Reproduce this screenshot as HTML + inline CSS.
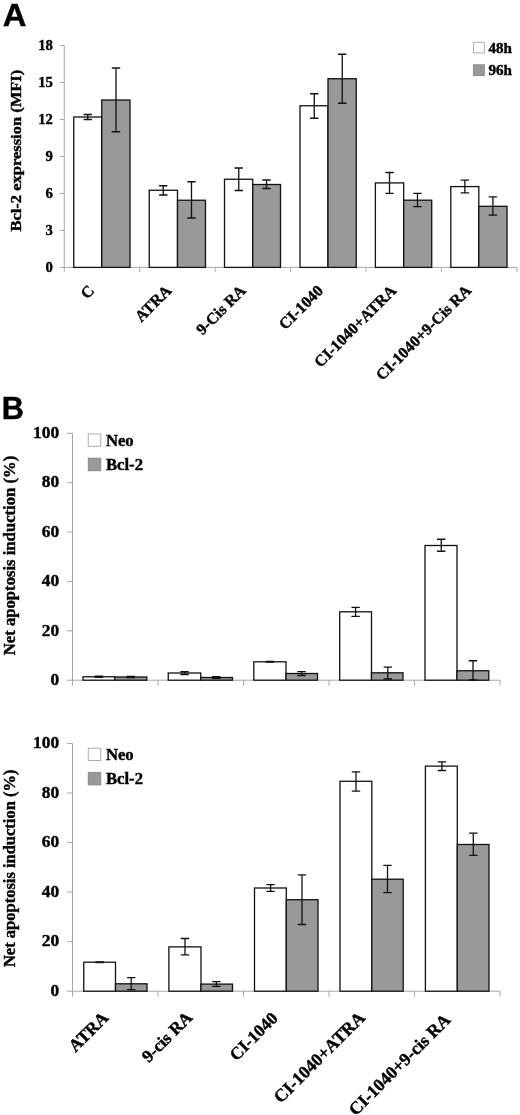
<!DOCTYPE html>
<html lang="en">
<head>
<meta charset="utf-8">
<title>Figure</title>
<style>
html,body{margin:0;padding:0;background:#fff;}
body{width:520px;height:1115px;overflow:hidden;}
svg{display:block;}
text{white-space:pre;font-weight:bold;fill:#000;stroke:#000;stroke-width:0.4px;}
.sf{font-family:"Liberation Serif","DejaVu Serif",serif;}
.ss{font-family:"Liberation Sans","DejaVu Sans",sans-serif;}
</style>
</head>
<body>
<svg width="520" height="1115" viewBox="0 0 520 1115">
<rect x="0" y="0" width="520" height="1115" fill="#ffffff"/>
<text class="ss" transform="translate(2.80 26.00) scale(1.07 1)" font-size="30.7px" text-anchor="start">A</text>
<path d="M64.25 45.5V267.4H517M59.75 267.4H64.25M59.75 230.42H64.25M59.75 193.43H64.25M59.75 156.45H64.25M59.75 119.47H64.25M59.75 82.48H64.25M59.75 45.5H64.25M64.25 267.4V271.9M139.7 267.4V271.9M215.15 267.4V271.9M290.6 267.4V271.9M366.05 267.4V271.9M441.5 267.4V271.9M516.95 267.4V271.9" fill="none" stroke="#a6a6a6" stroke-width="1"/>
<text class="sf" transform="translate(52.90 272.10)" font-size="14.67px" text-anchor="end">0</text>
<text class="sf" transform="translate(52.90 235.12)" font-size="14.67px" text-anchor="end">3</text>
<text class="sf" transform="translate(52.90 198.13)" font-size="14.67px" text-anchor="end">6</text>
<text class="sf" transform="translate(52.90 161.15)" font-size="14.67px" text-anchor="end">9</text>
<text class="sf" transform="translate(52.90 124.17)" font-size="14.67px" text-anchor="end">12</text>
<text class="sf" transform="translate(52.90 87.18)" font-size="14.67px" text-anchor="end">15</text>
<text class="sf" transform="translate(52.90 50.20)" font-size="14.67px" text-anchor="end">18</text>
<rect x="73.75" y="117.00" width="28.00" height="150.40" fill="#fff" stroke="#111111" stroke-width="1.3"/>
<rect x="101.75" y="100.00" width="28.25" height="167.40" fill="#999999" stroke="#111111" stroke-width="1.3"/>
<path d="M87.75 114.50V119.50M83.55 114.50H91.95M83.55 119.50H91.95" fill="none" stroke="#111111" stroke-width="1.3"/>
<path d="M116.00 68.00V131.75M111.80 68.00H120.20M111.80 131.75H120.20" fill="none" stroke="#111111" stroke-width="1.3"/>
<rect x="149.25" y="190.25" width="28.25" height="77.15" fill="#fff" stroke="#111111" stroke-width="1.3"/>
<rect x="177.50" y="200.25" width="28.00" height="67.15" fill="#999999" stroke="#111111" stroke-width="1.3"/>
<path d="M163.25 185.75V195.00M159.05 185.75H167.45M159.05 195.00H167.45" fill="none" stroke="#111111" stroke-width="1.3"/>
<path d="M191.50 181.75V218.00M187.30 181.75H195.70M187.30 218.00H195.70" fill="none" stroke="#111111" stroke-width="1.3"/>
<rect x="224.50" y="179.25" width="28.25" height="88.15" fill="#fff" stroke="#111111" stroke-width="1.3"/>
<rect x="252.75" y="184.50" width="27.75" height="82.90" fill="#999999" stroke="#111111" stroke-width="1.3"/>
<path d="M238.75 168.00V190.50M234.55 168.00H242.95M234.55 190.50H242.95" fill="none" stroke="#111111" stroke-width="1.3"/>
<path d="M266.50 180.00V188.50M262.30 180.00H270.70M262.30 188.50H270.70" fill="none" stroke="#111111" stroke-width="1.3"/>
<rect x="300.00" y="105.75" width="28.00" height="161.65" fill="#fff" stroke="#111111" stroke-width="1.3"/>
<rect x="328.00" y="78.75" width="28.25" height="188.65" fill="#999999" stroke="#111111" stroke-width="1.3"/>
<path d="M314.25 93.75V118.25M310.05 93.75H318.45M310.05 118.25H318.45" fill="none" stroke="#111111" stroke-width="1.3"/>
<path d="M342.25 54.25V103.25M338.05 54.25H346.45M338.05 103.25H346.45" fill="none" stroke="#111111" stroke-width="1.3"/>
<rect x="375.40" y="182.90" width="28.30" height="84.50" fill="#fff" stroke="#111111" stroke-width="1.3"/>
<rect x="403.70" y="200.20" width="28.00" height="67.20" fill="#999999" stroke="#111111" stroke-width="1.3"/>
<path d="M389.50 172.50V193.40M385.30 172.50H393.70M385.30 193.40H393.70" fill="none" stroke="#111111" stroke-width="1.3"/>
<path d="M417.50 193.40V206.60M413.30 193.40H421.70M413.30 206.60H421.70" fill="none" stroke="#111111" stroke-width="1.3"/>
<rect x="450.80" y="186.60" width="28.00" height="80.80" fill="#fff" stroke="#111111" stroke-width="1.3"/>
<rect x="478.80" y="206.30" width="28.20" height="61.10" fill="#999999" stroke="#111111" stroke-width="1.3"/>
<path d="M464.90 180.20V192.80M460.70 180.20H469.10M460.70 192.80H469.10" fill="none" stroke="#111111" stroke-width="1.3"/>
<path d="M492.90 196.80V215.20M488.70 196.80H497.10M488.70 215.20H497.10" fill="none" stroke="#111111" stroke-width="1.3"/>
<rect x="473.5" y="42.3" width="10.8" height="10.6" fill="#fff" stroke="#adadad" stroke-width="1"/>
<rect x="473.5" y="64.8" width="10.8" height="10.8" fill="#999999" stroke="#8a8a8a" stroke-width="1"/>
<text class="sf" transform="translate(488.50 52.80) scale(1.04 1)" font-size="14.5px" text-anchor="start">48h</text>
<text class="sf" transform="translate(488.50 75.40) scale(1.04 1)" font-size="14.5px" text-anchor="start">96h</text>
<text class="sf" transform="translate(21.00 150.70) rotate(-90) scale(1.058 1)" font-size="15.6px" text-anchor="middle">Bcl-2 expression (MFI)</text>
<text class="sf" transform="translate(95.10 291.50) rotate(-45)" font-size="16px" text-anchor="end">C</text>
<text class="sf" transform="translate(172.40 291.50) rotate(-45)" font-size="16px" text-anchor="end">ATRA</text>
<text class="sf" transform="translate(246.80 291.50) rotate(-45)" font-size="16px" text-anchor="end">9-Cis RA</text>
<text class="sf" transform="translate(324.10 291.60) rotate(-45)" font-size="16px" text-anchor="end">CI-1040</text>
<text class="sf" transform="translate(397.10 291.60) rotate(-45)" font-size="16px" text-anchor="end">CI-1040+ATRA</text>
<text class="sf" transform="translate(472.10 291.40) rotate(-45)" font-size="16px" text-anchor="end">CI-1040+9-Cis RA</text>
<text class="ss" transform="translate(1.70 418.80)" font-size="30.7px" text-anchor="start">B</text>
<path d="M72.5 433.3V680.2H500M67.0 680.2H72.5M67.0 630.82H72.5M67.0 581.44H72.5M67.0 532.06H72.5M67.0 482.68H72.5M67.0 433.3H72.5M72.5 680.2V685.7M158.0 680.2V685.7M243.5 680.2V685.7M329.0 680.2V685.7M414.5 680.2V685.7M500.0 680.2V685.7" fill="none" stroke="#a6a6a6" stroke-width="1"/>
<text class="sf" transform="translate(59.10 685.00)" font-size="17.4px" text-anchor="end">0</text>
<text class="sf" transform="translate(59.10 635.62)" font-size="17.4px" text-anchor="end">20</text>
<text class="sf" transform="translate(59.10 586.24)" font-size="17.4px" text-anchor="end">40</text>
<text class="sf" transform="translate(59.10 536.86)" font-size="17.4px" text-anchor="end">60</text>
<text class="sf" transform="translate(59.10 487.48)" font-size="17.4px" text-anchor="end">80</text>
<text class="sf" transform="translate(59.10 438.10)" font-size="17.4px" text-anchor="end">100</text>
<rect x="83.00" y="676.75" width="31.75" height="3.45" fill="#fff" stroke="#111111" stroke-width="1.3"/>
<rect x="114.75" y="677.00" width="32.00" height="3.20" fill="#999999" stroke="#111111" stroke-width="1.3"/>
<path d="M98.90 676.20V677.30M94.70 676.20H103.10M94.70 677.30H103.10" fill="none" stroke="#111111" stroke-width="1.3"/>
<path d="M130.70 676.30V677.70M126.50 676.30H134.90M126.50 677.70H134.90" fill="none" stroke="#111111" stroke-width="1.3"/>
<rect x="168.25" y="673.00" width="32.50" height="7.20" fill="#fff" stroke="#111111" stroke-width="1.3"/>
<rect x="200.75" y="677.50" width="31.75" height="2.70" fill="#999999" stroke="#111111" stroke-width="1.3"/>
<path d="M184.50 671.75V674.50M180.30 671.75H188.70M180.30 674.50H188.70" fill="none" stroke="#111111" stroke-width="1.3"/>
<path d="M216.25 676.60V678.40M212.05 676.60H220.45M212.05 678.40H220.45" fill="none" stroke="#111111" stroke-width="1.3"/>
<rect x="253.80" y="661.80" width="32.20" height="18.40" fill="#fff" stroke="#111111" stroke-width="1.3"/>
<rect x="286.00" y="673.50" width="31.50" height="6.70" fill="#999999" stroke="#111111" stroke-width="1.3"/>
<path d="M270.00 661.50V662.10M265.80 661.50H274.20M265.80 662.10H274.20" fill="none" stroke="#111111" stroke-width="1.3"/>
<path d="M301.60 671.70V675.50M297.40 671.70H305.80M297.40 675.50H305.80" fill="none" stroke="#111111" stroke-width="1.3"/>
<rect x="339.70" y="611.80" width="31.80" height="68.40" fill="#fff" stroke="#111111" stroke-width="1.3"/>
<rect x="371.50" y="672.80" width="31.50" height="7.40" fill="#999999" stroke="#111111" stroke-width="1.3"/>
<path d="M355.60 607.30V616.30M351.40 607.30H359.80M351.40 616.30H359.80" fill="none" stroke="#111111" stroke-width="1.3"/>
<path d="M387.80 667.20V679.00M383.60 667.20H392.00M383.60 679.00H392.00" fill="none" stroke="#111111" stroke-width="1.3"/>
<rect x="425.00" y="545.50" width="32.00" height="134.70" fill="#fff" stroke="#111111" stroke-width="1.3"/>
<rect x="457.00" y="670.75" width="31.75" height="9.45" fill="#999999" stroke="#111111" stroke-width="1.3"/>
<path d="M441.25 539.25V551.25M437.05 539.25H445.45M437.05 551.25H445.45" fill="none" stroke="#111111" stroke-width="1.3"/>
<path d="M473.00 660.75V680.00M468.80 660.75H477.20M468.80 680.00H477.20" fill="none" stroke="#111111" stroke-width="1.3"/>
<rect x="88.3" y="434.00" width="12.4" height="12.3" fill="#fff" stroke="#adadad" stroke-width="1"/>
<rect x="88.3" y="458.20" width="12.4" height="12.5" fill="#999999" stroke="#8a8a8a" stroke-width="1"/>
<text class="sf" transform="translate(105.90 446.20)" font-size="16.7px" text-anchor="start">Neo</text>
<text class="sf" transform="translate(105.90 470.10)" font-size="16.7px" text-anchor="start">Bcl-2</text>
<text class="sf" transform="translate(15.20 555.50) rotate(-90)" font-size="16.67px" text-anchor="middle">Net apoptosis induction (%)</text>
<path d="M72.5 743.5V991.2H500M67.0 991.2H72.5M67.0 941.66H72.5M67.0 892.12H72.5M67.0 842.58H72.5M67.0 793.04H72.5M67.0 743.5H72.5M72.5 991.2V996.7M158.0 991.2V996.7M243.5 991.2V996.7M329.0 991.2V996.7M414.5 991.2V996.7M500.0 991.2V996.7" fill="none" stroke="#a6a6a6" stroke-width="1"/>
<text class="sf" transform="translate(59.10 996.00)" font-size="17.4px" text-anchor="end">0</text>
<text class="sf" transform="translate(59.10 946.46)" font-size="17.4px" text-anchor="end">20</text>
<text class="sf" transform="translate(59.10 896.92)" font-size="17.4px" text-anchor="end">40</text>
<text class="sf" transform="translate(59.10 847.38)" font-size="17.4px" text-anchor="end">60</text>
<text class="sf" transform="translate(59.10 797.84)" font-size="17.4px" text-anchor="end">80</text>
<text class="sf" transform="translate(59.10 748.30)" font-size="17.4px" text-anchor="end">100</text>
<rect x="83.75" y="962.20" width="31.75" height="29.00" fill="#fff" stroke="#111111" stroke-width="1.3"/>
<rect x="115.50" y="983.80" width="31.50" height="7.40" fill="#999999" stroke="#111111" stroke-width="1.3"/>
<path d="M99.60 961.90V962.50M95.40 961.90H103.80M95.40 962.50H103.80" fill="none" stroke="#111111" stroke-width="1.3"/>
<path d="M131.20 977.60V989.60M127.00 977.60H135.40M127.00 989.60H135.40" fill="none" stroke="#111111" stroke-width="1.3"/>
<rect x="168.90" y="946.90" width="32.10" height="44.30" fill="#fff" stroke="#111111" stroke-width="1.3"/>
<rect x="201.00" y="984.10" width="31.50" height="7.10" fill="#999999" stroke="#111111" stroke-width="1.3"/>
<path d="M185.00 938.50V954.90M180.80 938.50H189.20M180.80 954.90H189.20" fill="none" stroke="#111111" stroke-width="1.3"/>
<path d="M216.40 981.60V986.30M212.20 981.60H220.60M212.20 986.30H220.60" fill="none" stroke="#111111" stroke-width="1.3"/>
<rect x="254.50" y="888.00" width="31.80" height="103.20" fill="#fff" stroke="#111111" stroke-width="1.3"/>
<rect x="286.30" y="899.70" width="31.70" height="91.50" fill="#999999" stroke="#111111" stroke-width="1.3"/>
<path d="M270.60 884.70V891.30M266.40 884.70H274.80M266.40 891.30H274.80" fill="none" stroke="#111111" stroke-width="1.3"/>
<path d="M302.00 874.80V924.50M297.80 874.80H306.20M297.80 924.50H306.20" fill="none" stroke="#111111" stroke-width="1.3"/>
<rect x="340.00" y="781.30" width="31.80" height="209.90" fill="#fff" stroke="#111111" stroke-width="1.3"/>
<rect x="371.80" y="879.20" width="31.40" height="112.00" fill="#999999" stroke="#111111" stroke-width="1.3"/>
<path d="M356.00 771.80V791.20M351.80 771.80H360.20M351.80 791.20H360.20" fill="none" stroke="#111111" stroke-width="1.3"/>
<path d="M387.50 865.30V892.70M383.30 865.30H391.70M383.30 892.70H391.70" fill="none" stroke="#111111" stroke-width="1.3"/>
<rect x="425.40" y="766.10" width="31.90" height="225.10" fill="#fff" stroke="#111111" stroke-width="1.3"/>
<rect x="457.30" y="844.50" width="31.70" height="146.70" fill="#999999" stroke="#111111" stroke-width="1.3"/>
<path d="M441.90 761.80V770.50M437.70 761.80H446.10M437.70 770.50H446.10" fill="none" stroke="#111111" stroke-width="1.3"/>
<path d="M473.30 833.20V855.40M469.10 833.20H477.50M469.10 855.40H477.50" fill="none" stroke="#111111" stroke-width="1.3"/>
<rect x="88.3" y="748.20" width="12.4" height="12.3" fill="#fff" stroke="#adadad" stroke-width="1"/>
<rect x="88.3" y="772.40" width="12.4" height="12.5" fill="#999999" stroke="#8a8a8a" stroke-width="1"/>
<text class="sf" transform="translate(105.90 760.40)" font-size="16.7px" text-anchor="start">Neo</text>
<text class="sf" transform="translate(105.90 784.30)" font-size="16.7px" text-anchor="start">Bcl-2</text>
<text class="sf" transform="translate(15.00 868.30) rotate(-90)" font-size="16.5px" text-anchor="middle">Net apoptosis induction (%)</text>
<text class="sf" transform="translate(109.50 1018.90) rotate(-45)" font-size="17.4px" text-anchor="end">ATRA</text>
<text class="sf" transform="translate(193.50 1018.60) rotate(-45)" font-size="17.4px" text-anchor="end">9-cis RA</text>
<text class="sf" transform="translate(278.80 1019.30) rotate(-45)" font-size="17.4px" text-anchor="end">CI-1040</text>
<text class="sf" transform="translate(366.00 1018.80) rotate(-45)" font-size="17.8px" text-anchor="end">CI-1040+ATRA</text>
<text class="sf" transform="translate(451.50 1020.90) rotate(-45)" font-size="17.7px" text-anchor="end">CI-1040+9-cis RA</text>
</svg>
</body>
</html>
